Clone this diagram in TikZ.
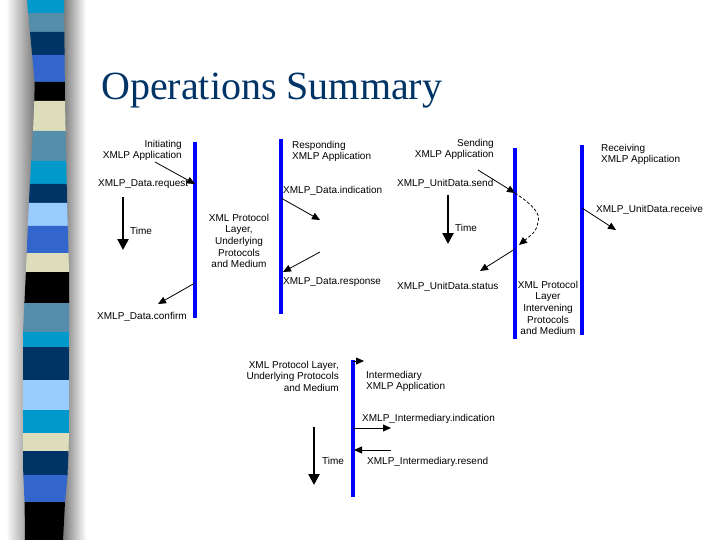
\documentclass[tikz,border=0pt]{standalone}
\usepackage{fontspec}
\setmainfont{Liberation Sans}
\newfontfamily\titlefont{Liberation Serif}
\usetikzlibrary{arrows.meta}
\definecolor{titleblue}{RGB}{0,51,102}
\definecolor{stripcyan}{RGB}{0,153,204}
\definecolor{stripsteel}{RGB}{85,142,170}
\definecolor{stripnavy}{RGB}{0,51,102}
\definecolor{stripblue}{RGB}{51,102,204}
\definecolor{stripbeige}{RGB}{221,221,187}
\definecolor{striplight}{RGB}{153,204,255}

\begin{document}
\begin{tikzpicture}[x=1pt, y=-1pt,
	lbl/.style={font=\fontsize{10}{11.7}\selectfont, inner sep=0pt},
	life/.style={line width=3.5pt, color=blue},
	msg/.style={line width=0.8pt, -{Triangle[length=8pt,width=7pt]}},
	timeline/.style={line width=2.5pt, -{Triangle[length=11pt,width=11pt]}}]
			%%%%% START %%%%%
			
			\fill[white] (0, 0) rectangle (720, 540);
			\useasboundingbox (0, 0) rectangle (720, 540);
			
			% left strip
			\shade[left color=white, right color=black!55] (6, 0) rectangle (36, 540);
			\shade[left color=black!55, right color=white] (62, 0) rectangle (86, 540);
			\foreach \ya/\yb/\la/\lb/\ra/\rb/\c in {
				0/13/27/28.2/64/64.1/stripcyan,
				13/32/28.2/30/64.1/64.3/stripsteel,
				32/55/30/32.2/64.3/64.6/stripnavy,
				55/82/32.2/34.7/64.6/64.8/stripblue,
				82/101/34.7/34.3/64.8/65/black,
				101/131/34.3/33/65/65.6/stripbeige,
				131/161/33/31.2/65.6/66.2/stripsteel,
				161/184/31.2/29.9/66.2/66.7/stripcyan,
				184/203/29.9/28.9/66.7/67.1/stripnavy,
				203/226/28.9/27.9/67.1/67.7/striplight,
				226/253/27.9/26.7/67.7/68.5/stripblue,
				253/272/26.7/25.9/68.5/69/stripbeige,
				272/303/25.9/24.4/69/69/black,
				303/332/24.4/23/69/69/stripsteel,
				332/347/23/23/69/69/stripcyan,
				347/380/23/23/69/69/stripnavy,
				380/410/23/23/69/69/striplight,
				410/433/23/23/69/69/stripcyan,
				433/451/23/23/69/68.5/stripbeige,
				451/475/23/23.3/68.5/67.5/stripnavy,
				475/502/23.3/24.6/67.5/65/stripblue,
				502/540/24.6/25/65/63/black}
				\fill[\c] (\la, \ya) -- (\ra, \ya) -- (\rb, \yb+0.5) -- (\lb, \yb+0.5) -- cycle;
			
			\node[anchor=base west, inner sep=0pt, text=titleblue,
				font=\titlefont\fontsize{40}{48}\selectfont] (title) at (101, 100) {Operations Summary};
			
			% request / confirm
			\coordinate (initTop) at (195, 142);
			\coordinate (initBot) at (195, 318);
			\coordinate (respTop) at (281, 139);
			\coordinate (respBot) at (281, 314);
			\draw[life] (initTop) -- (initBot);
			\draw[life] (respTop) -- (respBot);
			
			\node[lbl, anchor=north east, align=right] (initApp) at (182, 139.7) {Initiating\\XMLP Application};
			\node[lbl, anchor=north west, align=left] (respApp) at (292, 140.7) {Responding\\XMLP Application};
			\node[lbl, anchor=north, align=center] (layerA) at (239, 213.7) {XML Protocol\\Layer,\\Underlying\\Protocols\\and Medium};
			\node[lbl, anchor=base west] (dataReq) at (98, 187) {XMLP\_Data.request};
			\node[lbl, anchor=base west] (dataCnf) at (97, 319) {XMLP\_Data.confirm};
			\node[lbl, anchor=base west] (dataInd) at (283, 194) {XMLP\_Data.indication};
			\node[lbl, anchor=base west] (dataRsp) at (283, 284) {XMLP\_Data.response};
			\node[lbl, anchor=base west] (timeA) at (130, 234) {Time};
			
			\coordinate (reqS) at (155, 162);
			\coordinate (reqE) at (195, 184);
			\coordinate (cnfS) at (195, 283);
			\coordinate (cnfE) at (158, 304);
			\coordinate (indS) at (281, 198);
			\coordinate (indE) at (320, 220);
			\coordinate (rspS) at (320, 252);
			\coordinate (rspE) at (283, 272);
			\draw[msg] (reqS) -- (reqE);
			\draw[msg] (cnfS) -- (cnfE);
			\draw[msg] (indS) -- (indE);
			\draw[msg] (rspS) -- (rspE);
			
			\coordinate (timeAs) at (123, 197);
			\coordinate (timeAe) at (123, 250);
			\draw[timeline] (timeAs) -- (timeAe);
			
			% unitdata send / receive
			\coordinate (sendTop) at (515, 148);
			\coordinate (sendBot) at (515, 339);
			\coordinate (recvTop) at (582, 145);
			\coordinate (recvBot) at (582, 335);
			\draw[life] (sendTop) -- (sendBot);
			\draw[life] (recvTop) -- (recvBot);
			
			\node[lbl, anchor=north east, align=right] (sendApp) at (494, 138.7) {Sending\\XMLP Application};
			\node[lbl, anchor=north west, align=left] (recvApp) at (601, 143.7) {Receiving\\XMLP Application};
			\node[lbl, anchor=north, align=center] (layerB) at (548, 280.7) {XML Protocol\\Layer\\Intervening\\Protocols\\and Medium};
			\node[lbl, anchor=base west] (unitSend) at (397, 187) {XMLP\_UnitData.send};
			\node[lbl, anchor=base west] (unitStat) at (397, 289) {XMLP\_UnitData.status};
			\node[lbl, anchor=base west] (unitRecv) at (596, 212) {XMLP\_UnitData.receive};
			\node[lbl, anchor=base west] (timeB) at (455, 231) {Time};
			
			\coordinate (sendS) at (478, 170);
			\coordinate (sendE) at (515, 193);
			\coordinate (loopE) at (519, 245);
			\coordinate (statS) at (515, 249);
			\coordinate (statE) at (480, 271);
			\coordinate (recvS) at (582, 208);
			\coordinate (recvE) at (616, 230);
			\draw[msg] (sendS) -- (sendE);
			\draw[line width=0.8pt, dash pattern=on 3pt off 2pt, -{Triangle[length=8pt,width=7pt]}]
				(sendE) .. controls (533, 205) and (541, 214) .. (538, 222) .. controls (536, 231) .. (loopE);
			\draw[msg] (statS) -- (statE);
			\draw[msg] (recvS) -- (recvE);
			
			\coordinate (timeBs) at (448, 195);
			\coordinate (timeBe) at (448, 244);
			\draw[timeline] (timeBs) -- (timeBe);
			
			% intermediary
			\coordinate (midTop) at (353, 360);
			\coordinate (midBot) at (353, 497);
			\draw[life] (midTop) -- (midBot);
			
			\node[lbl, anchor=north east, align=right] (layerC) at (339, 360.7) {XML Protocol Layer,\\Underlying Protocols\\and Medium};
			\node[lbl, anchor=north west, align=left] (midApp) at (366, 370.7) {Intermediary\\XMLP Application};
			\node[lbl, anchor=base west] (midInd) at (362, 421) {XMLP\_Intermediary.indication};
			\node[lbl, anchor=base west] (midRes) at (367, 464) {XMLP\_Intermediary.resend};
			\node[lbl, anchor=base west] (timeC) at (322, 464) {Time};
			
			\coordinate (topS) at (353, 361);
			\coordinate (topE) at (364, 361);
			\coordinate (imiS) at (353, 428);
			\coordinate (imiE) at (391, 428);
			\coordinate (resS) at (391, 450);
			\coordinate (resE) at (354, 450);
			\draw[msg] (topS) -- (topE);
			\draw[msg] (imiS) -- (imiE);
			\draw[msg] (resS) -- (resE);
			
			\coordinate (timeCs) at (314, 427);
			\coordinate (timeCe) at (314, 485);
			\draw[timeline] (timeCs) -- (timeCe);
			
			%%%%% END %%%%%
\end{tikzpicture}
\end{document}
